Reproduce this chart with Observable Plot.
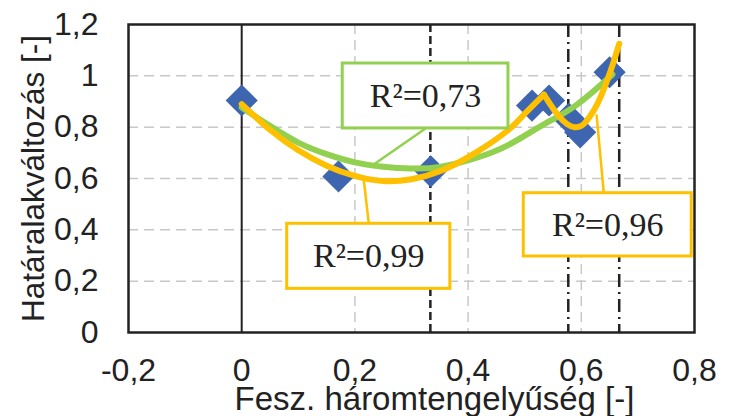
<!DOCTYPE html>
<html><head><meta charset="utf-8">
<script src="https://cdn.jsdelivr.net/npm/d3@7"></script>
<script src="https://cdn.jsdelivr.net/npm/@observablehq/plot@0.6"></script>
<style>body{margin:0;background:#fff} svg{display:block}</style>
</head><body><div id="chart"></div>
<script>
// measured points
const pointX = [0, 0.171, 0.334, 0.513, 0.543, 0.578, 0.598, 0.650];
const pointY = [0.904, 0.608, 0.628, 0.884, 0.904, 0.833, 0.780, 1.014];

// trendline R2=0,73 (green)
const greenX = [0, 0.05, 0.1, 0.15, 0.2, 0.25, 0.3, 0.35, 0.41, 0.47, 0.53, 0.59, 0.655];
const greenY = [0.877, 0.805, 0.74, 0.695, 0.663, 0.646, 0.639, 0.645, 0.677, 0.729, 0.806, 0.884, 1.005];

// trendline R2=0,99 (orange, left part)
const orangeLeftX = [0, 0.05, 0.1, 0.15, 0.2, 0.25, 0.3, 0.35, 0.41, 0.47, 0.5, 0.534];
const orangeLeftY = [0.89, 0.79, 0.71, 0.65, 0.61, 0.59, 0.597, 0.628, 0.696, 0.787, 0.852, 0.927];

// trendline R2=0,96 (orange, right part)
const orangeRightX = [0.534, 0.557, 0.575, 0.588, 0.6, 0.61, 0.622, 0.634, 0.652, 0.667];
const orangeRightY = [0.927, 0.852, 0.812, 0.80, 0.805, 0.826, 0.865, 0.917, 1.021, 1.125];

// reference lines
const refDashed = [1 / 3];
const refDashDot = [0.577, 0.667];

// ticks
const xTicks = [-0.2, 0, 0.2, 0.4, 0.6, 0.8];
const yTicks = [0, 0.2, 0.4, 0.6, 0.8, 1, 1.2];
const xGrid = [0.2, 0.4, 0.6];
const yGrid = [0.2, 0.4, 0.6, 0.8, 1];

// annotation labels
const labelText = ["R²=0,73", "R²=0,99", "R²=0,96"];
const labelColor = ["#92D050", "#FFC000", "#FFC000"];
const labelX1 = [0.1785, 0.0804, 0.4984];
const labelX2 = [0.4713, 0.3686, 0.7951];
const labelY1 = [0.795, 0.170, 0.2961];
const labelY2 = [1.048, 0.4235, 0.5427];
const leaderX1 = [0.3247, 0.2246, 0.6398];
const leaderY1 = [0.795, 0.4235, 0.5427];
const leaderX2 = [0.2306, 0.2157, 0.6269];
const leaderY2 = [0.6506, 0.595, 0.85];

const xTitle = "Fesz. háromtengelyűség [-]";
const yTitle = "Határalakváltozás [-]";

const points = pointX.map((x, i) => ({x, y: pointY[i]}));
const green = greenX.map((x, i) => ({x, y: greenY[i]}));
const orangeL = orangeLeftX.map((x, i) => ({x, y: orangeLeftY[i]}));
const orangeR = orangeRightX.map((x, i) => ({x, y: orangeRightY[i]}));
const labels = labelText.map((t, i) => ({
  t, c: labelColor[i], x1: labelX1[i], x2: labelX2[i], y1: labelY1[i], y2: labelY2[i],
  lx1: leaderX1[i], ly1: leaderY1[i], lx2: leaderX2[i], ly2: leaderY2[i]
}));

const fmt = d => String(d).replace(".", ",");
const sans = "Liberation Sans, Arial, sans-serif";
const serif = "Liberation Serif, Times New Roman, serif";

const chart = Plot.plot({
  width: 731,
  height: 416,
  marginLeft: 128,
  marginRight: 37,
  marginTop: 24,
  marginBottom: 84,
  style: {fontFamily: sans, color: "#222", background: "#fff"},
  x: {domain: [-0.2, 0.8]},
  y: {domain: [0, 1.2]},
  marks: [
    Plot.ruleX(xGrid, {stroke: "#c8c8c8", strokeWidth: 1.5, strokeDasharray: "10,6"}),
    Plot.ruleY(yGrid, {stroke: "#c8c8c8", strokeWidth: 1.5, strokeDasharray: "10,6"}),
    Plot.ruleX([0], {stroke: "#222", strokeWidth: 2}),
    Plot.ruleX(refDashed, {stroke: "#222", strokeWidth: 2.5, strokeDasharray: "8,4"}),
    Plot.ruleX(refDashDot, {stroke: "#222", strokeWidth: 2.5, strokeDasharray: "13,5,2,5"}),
    Plot.dot(points, {x: "x", y: "y", symbol: "diamond2", r: 14.5, fill: "#3E65AF", stroke: null}),
    Plot.line(green, {x: "x", y: "y", stroke: "#92D050", strokeWidth: 6, curve: "natural"}),
    Plot.line(orangeL, {x: "x", y: "y", stroke: "#FFC000", strokeWidth: 6, curve: "natural"}),
    Plot.line(orangeR, {x: "x", y: "y", stroke: "#FFC000", strokeWidth: 6, curve: "natural"}),
    Plot.link(labels, {x1: "lx1", y1: "ly1", x2: "lx2", y2: "ly2", stroke: "c", strokeWidth: 2.5}),
    Plot.rect(labels, {x1: "x1", x2: "x2", y1: "y1", y2: "y2", fill: "#fff", stroke: "c", strokeWidth: 3}),
    Plot.text(labels, {x: d => (d.x1 + d.x2) / 2, y: d => (d.y1 + d.y2) / 2, text: "t",
      fontFamily: serif, fontSize: 34, fill: "#222"}),
    Plot.frame({stroke: "#222", strokeWidth: 2.5}),
    Plot.axisX({ticks: xTicks, tickFormat: fmt, tickSize: 0, tickPadding: 26, fontSize: 32, label: null, fill: "#222"}),
    Plot.axisY({ticks: yTicks, tickFormat: fmt, tickSize: 0, tickPadding: 30, fontSize: 32, label: null, fill: "#222"}),
    Plot.text([xTitle], {text: d => d, frameAnchor: "bottom", lineAnchor: "bottom", textAnchor: "middle", dy: 77, dx: 23, fontSize: 33, fill: "#222"}),
    Plot.text([yTitle], {text: d => d, frameAnchor: "left", lineAnchor: "bottom", textAnchor: "middle", rotate: -90, dx: -85, fontSize: 31.5, fill: "#222"})
  ]
});
document.getElementById("chart").appendChild(chart);
</script>
</body></html>
